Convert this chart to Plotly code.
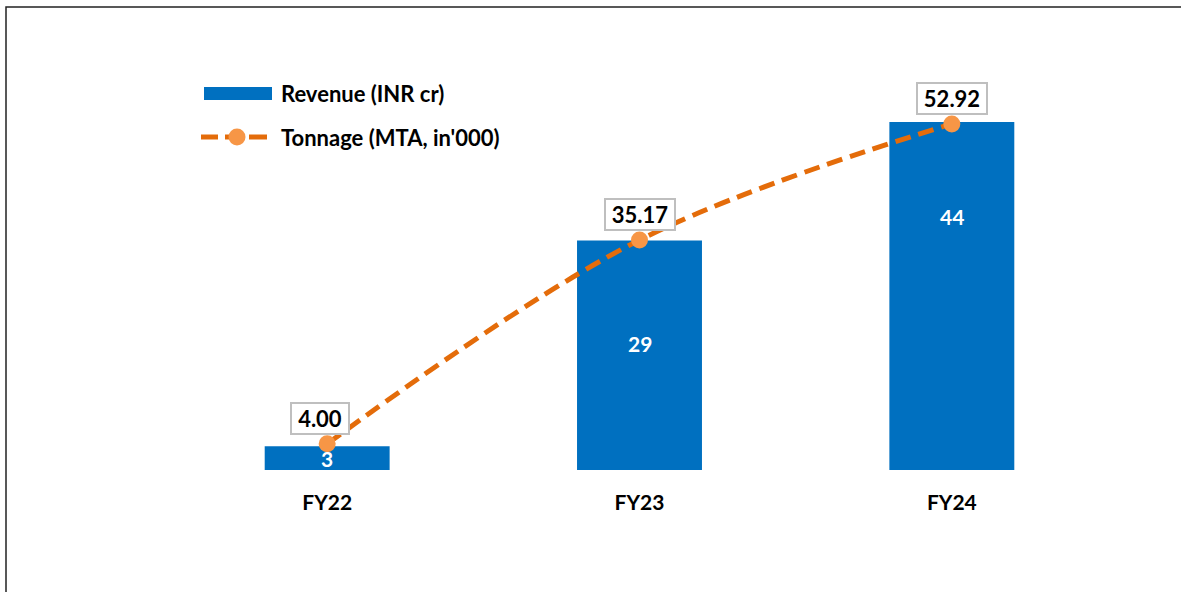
import plotly.graph_objects as go

categories = ["FY22", "FY23", "FY24"]
revenue = [3, 29, 44]
tonnage = [4.00, 35.17, 52.92]
tonnage_labels = ["4.00", "35.17", "52.92"]
revenue_label_y = [1.5, 16.0, 32.0]  # label placement inside bars (primary-axis units)

W, H = 1181, 592
# plot area in screen pixels: x 171..1108, y 50..470
ML, MT = 171, 50
MR = W - 1108
MB = H - 470
PW, PH = W - ML - MR, H - MT - MB

def px(x):
    return (x - ML) / PW

def py(y):
    return (H - MB - y) / PH

FONT = "Lato"
BAR_C = "#0070C0"
LINE_C = "#E46C0A"
MARK_C = "#F79646"

fig = go.Figure()
fig.add_trace(go.Bar(x=categories, y=revenue, marker=dict(color=BAR_C, line=dict(width=0)),
                     width=0.4, name="Revenue (INR cr)", yaxis="y", showlegend=False,
                     hoverinfo="skip"))
fig.add_trace(go.Scatter(x=categories, y=tonnage, mode="lines+markers", yaxis="y2",
                         line=dict(color=LINE_C, width=5, shape="spline", smoothing=1,
                                   dash="16px,8px"),
                         marker=dict(color=MARK_C, size=17, line=dict(width=0)),
                         name="Tonnage (MTA, in'000)", showlegend=False, hoverinfo="skip"))

annotations = []
for c, v, t in zip(categories, tonnage, tonnage_labels):
    annotations.append(dict(x=c, y=v, xref="x", yref="y2", text=f"<b>{t}</b>",
                            showarrow=False, yanchor="bottom", yshift=9,
                            xshift=-7 if c == "FY22" else 0,
                            width=54 if len(t) == 4 else 66,
                            font=dict(family=FONT, size=22, color="black"),
                            bgcolor="white", bordercolor="#BFBFBF", borderwidth=2, borderpad=1))
for c, v, ly in zip(categories, revenue, revenue_label_y):
    annotations.append(dict(x=c, y=ly, xref="x", yref="y", text=f"<b>{v}</b>",
                            showarrow=False, yanchor="middle",
                            font=dict(family=FONT, size=21, color="white")))

# custom legend texts
annotations.append(dict(x=px(279), y=py(94), xref="paper", yref="paper", xanchor="left",
                        yanchor="middle", showarrow=False, text="<b>Revenue (INR cr)</b>",
                        font=dict(family=FONT, size=22, color="black")))
annotations.append(dict(x=px(279), y=py(137), xref="paper", yref="paper", xanchor="left",
                        yanchor="middle", showarrow=False, text="<b>Tonnage (MTA, in'000)</b>",
                        font=dict(family=FONT, size=22, color="black")))

shapes = [
    # outer chart border
    dict(type="rect", xref="paper", yref="paper", x0=px(6), x1=px(1300), y0=py(700), y1=py(7),
         line=dict(color="#222222", width=1.5), fillcolor="rgba(0,0,0,0)", layer="below"),
    # legend: bar swatch
    dict(type="rect", xref="paper", yref="paper", x0=px(204), x1=px(272), y0=py(100), y1=py(87),
         line=dict(width=0), fillcolor=BAR_C),
]
for a, b in [(201, 218), (225, 235), (249, 267)]:
    shapes.append(dict(type="line", xref="paper", yref="paper", x0=px(a), x1=px(b),
                       y0=py(137), y1=py(137), line=dict(color=LINE_C, width=5)))
shapes.append(dict(type="circle", xref="paper", yref="paper", x0=px(228.5), x1=px(245.5),
                   y0=py(145.5), y1=py(128.5), line=dict(width=0), fillcolor=MARK_C))

fig.update_layout(
    width=W, height=H,
    margin=dict(l=ML, r=MR, t=MT, b=MB),
    paper_bgcolor="white", plot_bgcolor="white",
    showlegend=False,
    bargap=0.6,
    xaxis=dict(type="category", range=[-0.5, 2.5], showgrid=False, zeroline=False, showline=False,
               ticks="outside", ticklen=14, tickcolor="rgba(0,0,0,0)",
               tickfont=dict(family=FONT, size=21, color="black"),
               tickvals=categories, ticktext=[f"<b>{c}</b>" for c in categories]),
    yaxis=dict(range=[0, PH / 7.91], visible=False, showgrid=False, zeroline=False),
    yaxis2=dict(range=[0, PH / 6.54], visible=False, showgrid=False, zeroline=False,
                overlaying="y", side="right"),
    annotations=annotations,
    shapes=shapes,
)

fig.write_html("out.html", config={"displayModeBar": False},
               post_script="document.body.style.margin='0';")
